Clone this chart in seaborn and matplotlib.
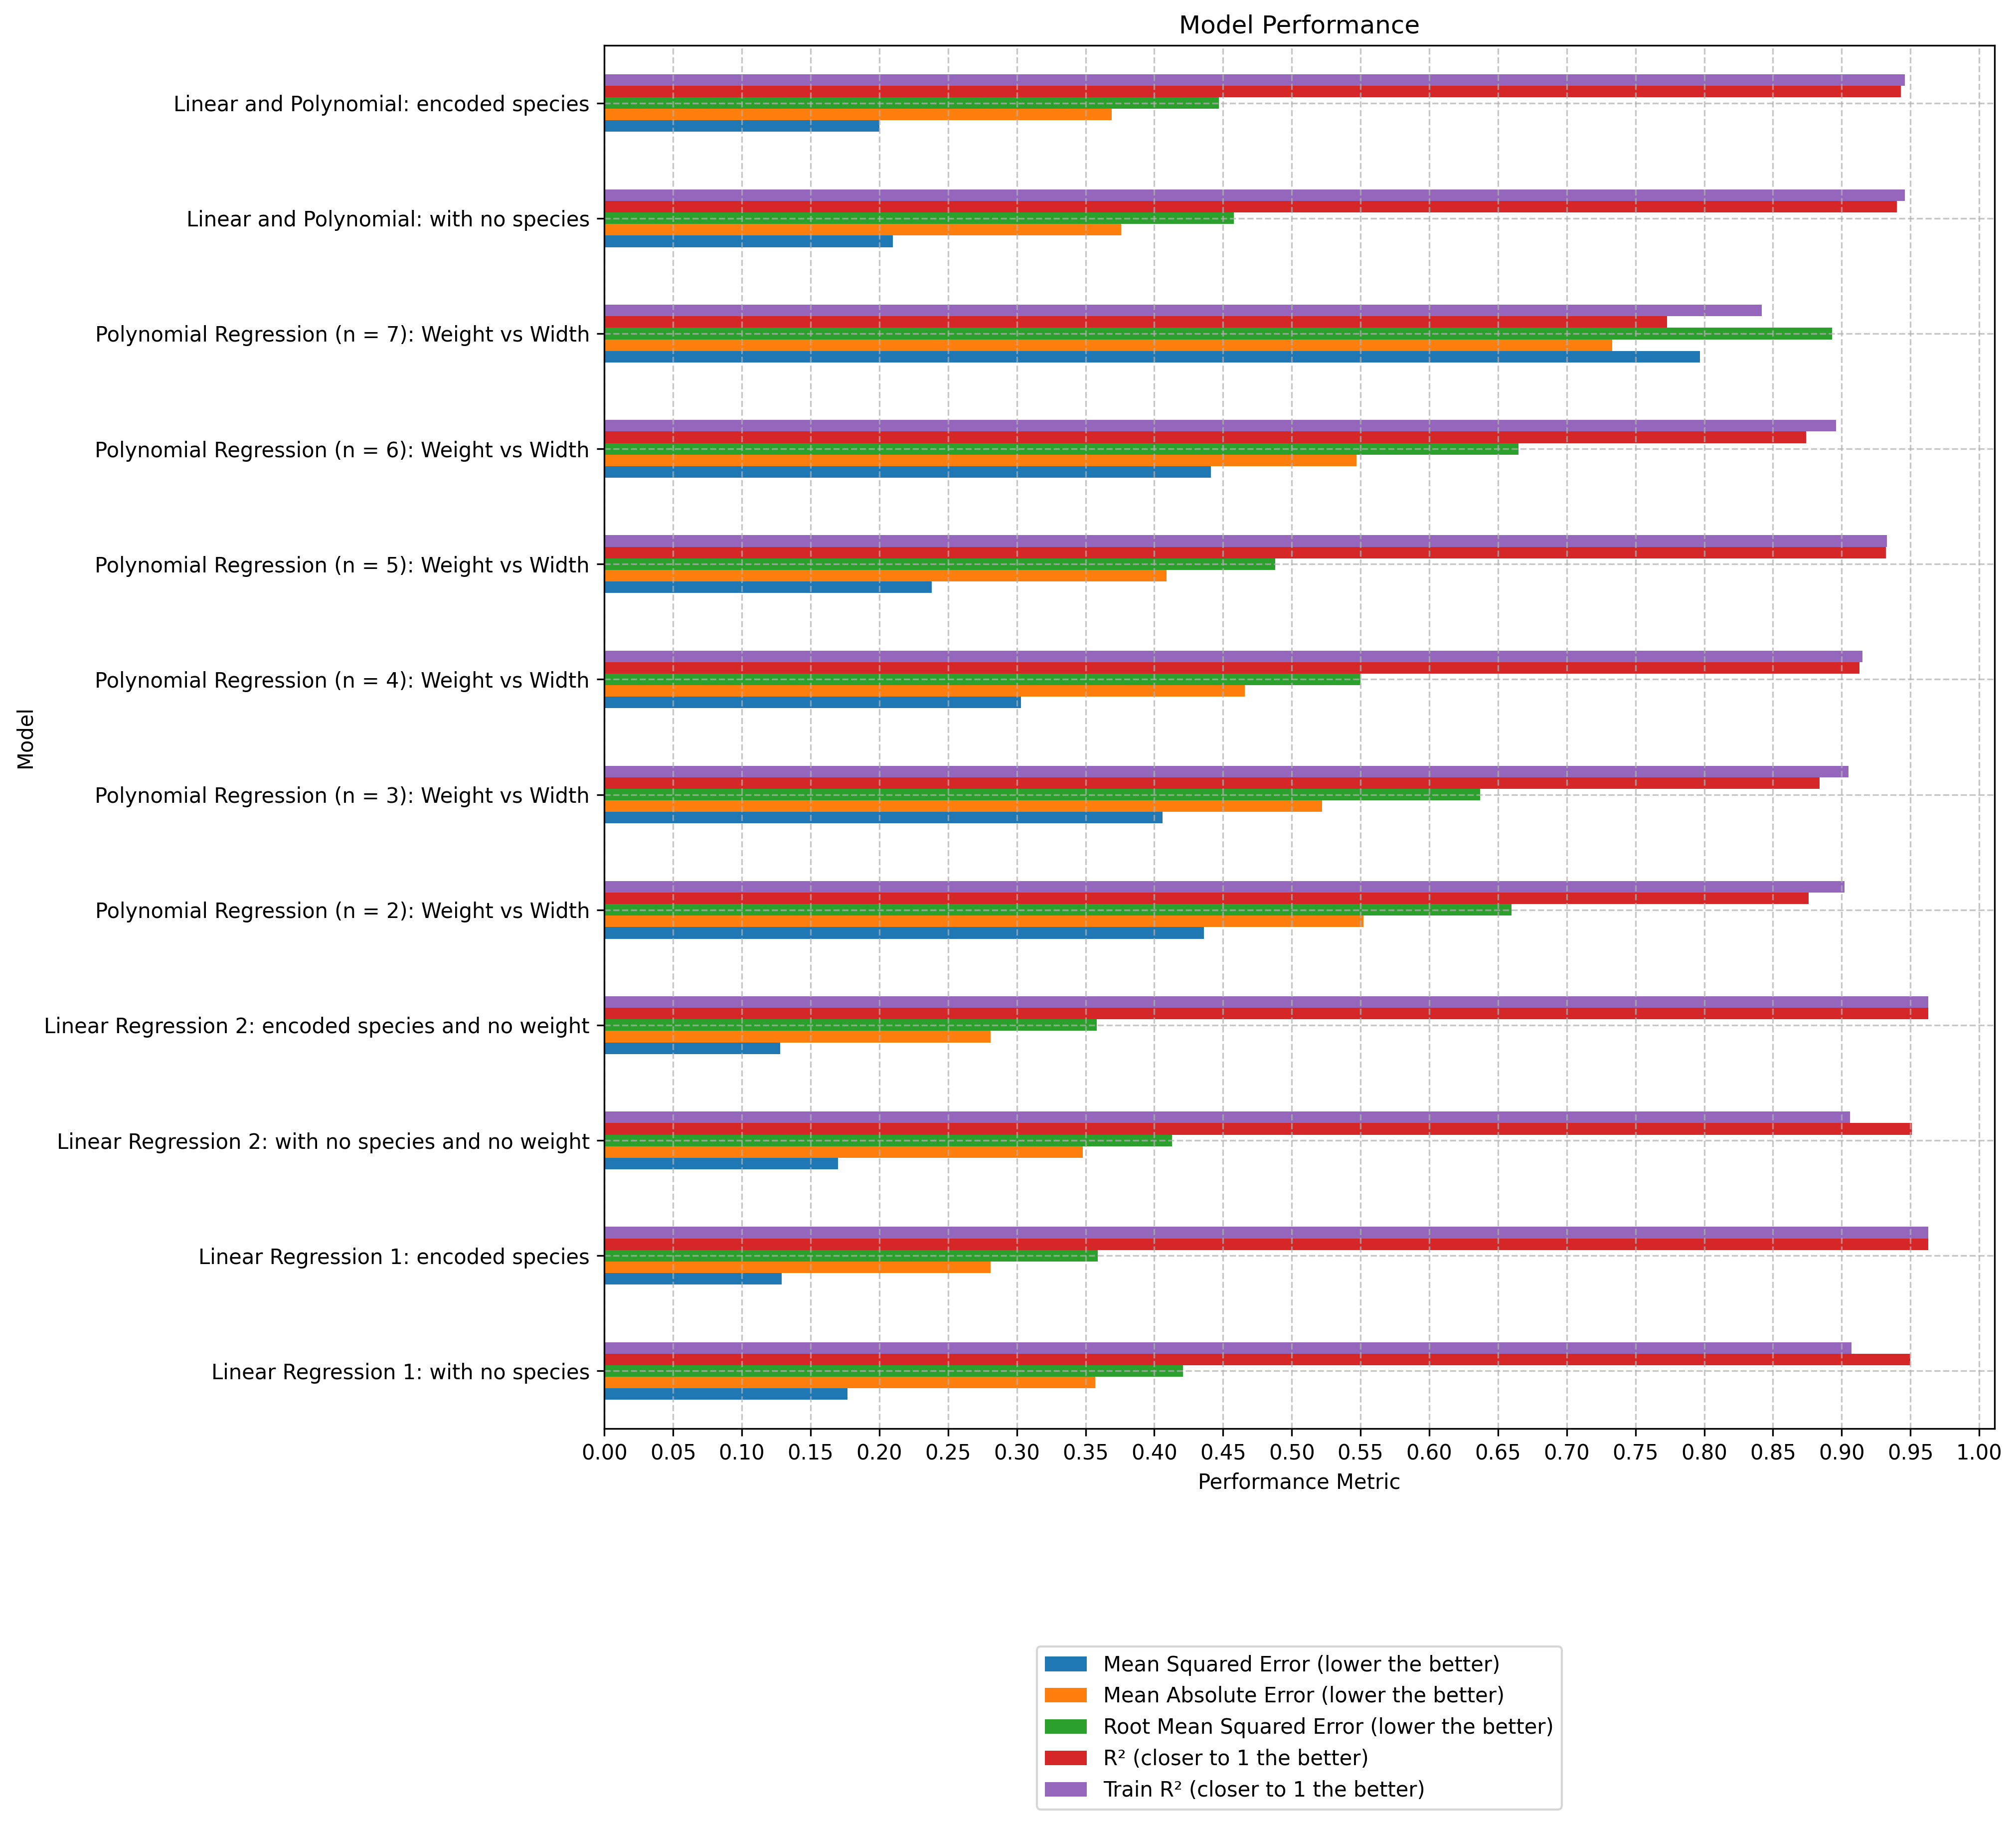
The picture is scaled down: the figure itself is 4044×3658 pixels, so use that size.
# Model performance comparison chart

import numpy as np
import pandas as pd
import matplotlib
matplotlib.use("Agg")
import matplotlib.pyplot as plt
import seaborn as sns

# 1. Data (models listed bottom -> top)
models = [
    "Linear Regression 1: with no species",
    "Linear Regression 1: encoded species",
    "Linear Regression 2: with no species and no weight",
    "Linear Regression 2: encoded species and no weight",
    "Polynomial Regression (n = 2): Weight vs Width",
    "Polynomial Regression (n = 3): Weight vs Width",
    "Polynomial Regression (n = 4): Weight vs Width",
    "Polynomial Regression (n = 5): Weight vs Width",
    "Polynomial Regression (n = 6): Weight vs Width",
    "Polynomial Regression (n = 7): Weight vs Width",
    "Linear and Polynomial: with no species",
    "Linear and Polynomial: encoded species",
]

metrics = [
    "Mean Squared Error (lower the better)",
    "Mean Absolute Error (lower the better)",
    "Root Mean Squared Error (lower the better)",
    "R² (closer to 1 the better)",
    "Train R² (closer to 1 the better)",
]

mse = [0.177, 0.129, 0.170, 0.128, 0.436, 0.406, 0.303, 0.238, 0.441, 0.797, 0.210, 0.200]
mae = [0.357, 0.281, 0.348, 0.281, 0.552, 0.522, 0.466, 0.409, 0.547, 0.733, 0.376, 0.369]
rmse = [0.421, 0.359, 0.413, 0.358, 0.660, 0.637, 0.550, 0.488, 0.665, 0.893, 0.458, 0.447]
r2 = [0.950, 0.963, 0.951, 0.963, 0.876, 0.884, 0.913, 0.932, 0.874, 0.773, 0.940, 0.943]
train_r2 = [0.907, 0.963, 0.906, 0.963, 0.902, 0.905, 0.915, 0.933, 0.896, 0.842, 0.946, 0.946]

# 2. Long format for seaborn
df = pd.DataFrame({
    "Model": models,
    metrics[0]: mse,
    metrics[1]: mae,
    metrics[2]: rmse,
    metrics[3]: r2,
    metrics[4]: train_r2,
})
long_df = df.melt(id_vars="Model", var_name="Metric", value_name="Value")

# 3. Plot
fig, ax = plt.subplots(figsize=(4045 / 300, 3658 / 300), dpi=300)
fig.subplots_adjust(left=0.2997, right=0.9891, bottom=0.2168, top=0.9751)

palette = sns.color_palette("tab10", 5)
sns.barplot(
    data=long_df, y="Model", x="Value", hue="Metric",
    order=models, hue_order=metrics, orient="h",
    width=0.5, saturation=1, palette=palette, errorbar=None, ax=ax,
)
ax.invert_yaxis()  # first model at the bottom, like pandas barh

ax.set_xticks(np.arange(0, 1.0001, 0.05))
ax.set_xticklabels([f"{t:.2f}" for t in np.arange(0, 1.0001, 0.05)])
ax.grid(True, linestyle="--", alpha=0.7)

ax.set_title("Model Performance")
ax.set_xlabel("Performance Metric")
ax.set_ylabel("Model")

sns.move_legend(ax, "upper center", bbox_to_anchor=(0.5, -0.15), title=None, frameon=True)

plt.savefig("out.png", dpi=300)
